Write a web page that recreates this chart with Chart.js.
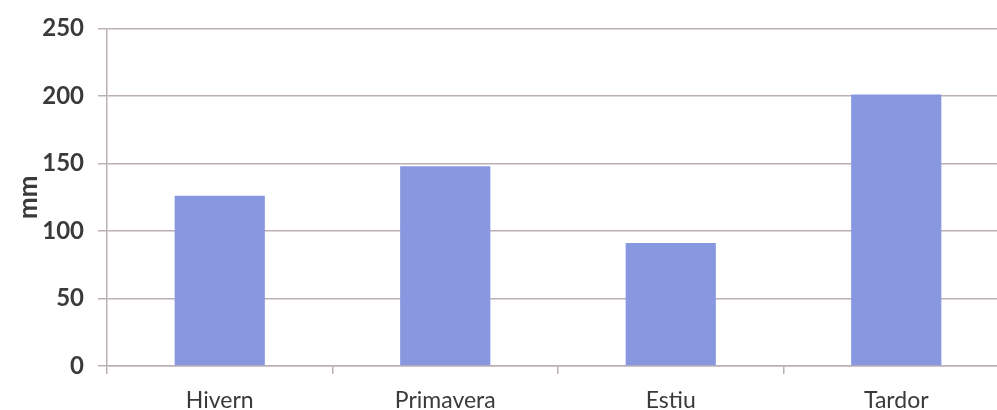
<!DOCTYPE html>
<html>
<head>
<meta charset="utf-8">
<script src="https://cdn.jsdelivr.net/npm/chart.js@4/dist/chart.umd.min.js"></script>
<style>
  html, body { margin: 0; padding: 0; background: #fff; overflow: hidden; width: 997px; height: 410px; }
  #wrap { position: absolute; left: 0; top: 0; width: 1012px; height: 430px; }
</style>
</head>
<body>
<div id="wrap"><canvas id="c" width="1012" height="430"></canvas></div>
<script>
const categories = ["Hivern", "Primavera", "Estiu", "Tardor"];
const rainfall = [126, 148, 91, 201];
const yTicks = [0, 50, 100, 150, 200, 250];
const yTitle = "mm";

const gridColor = "#bcb0b8";
const textColor = "#3a3a3a";

new Chart(document.getElementById("c"), {
  type: "bar",
  data: {
    labels: categories,
    datasets: [{
      data: rainfall,
      backgroundColor: "#8797e0",
      borderWidth: 0,
      categoryPercentage: 0.4,
      barPercentage: 1.0
    }]
  },
  options: {
    responsive: false,
    animation: false,
    devicePixelRatio: 1,
    layout: { padding: { top: 27, right: 3, left: 0, bottom: 0 } },
    plugins: { legend: { display: false }, tooltip: { enabled: false }, title: { display: false } },
    scales: {
      x: {
        offset: true,
        grid: { offset: true, drawOnChartArea: false, drawTicks: true, tickLength: 8, color: gridColor, lineWidth: 1.5 },
        border: { display: true, color: gridColor, width: 1.5 },
        ticks: { color: textColor, font: { family: "Lato", size: 23 }, padding: 13 },
        afterFit: (s) => { s.height = 430 - 366; }
      },
      y: {
        min: 0, max: 250,
        afterBuildTicks: (s) => { s.ticks = yTicks.map(v => ({ value: v })); },
        grid: { drawTicks: true, tickLength: 9, color: gridColor, lineWidth: 1.5 },
        border: { display: true, color: gridColor, width: 1.5 },
        ticks: { color: textColor, font: { family: "Lato", size: 24, weight: "bold" }, padding: 14 },
        title: { display: true, text: yTitle, color: textColor, font: { family: "Lato", size: 26, weight: "bold" }, padding: { top: 13, bottom: 0 } },
        afterFit: (s) => { s.width = 107; }
      }
    }
  }
});
</script>
</body>
</html>
